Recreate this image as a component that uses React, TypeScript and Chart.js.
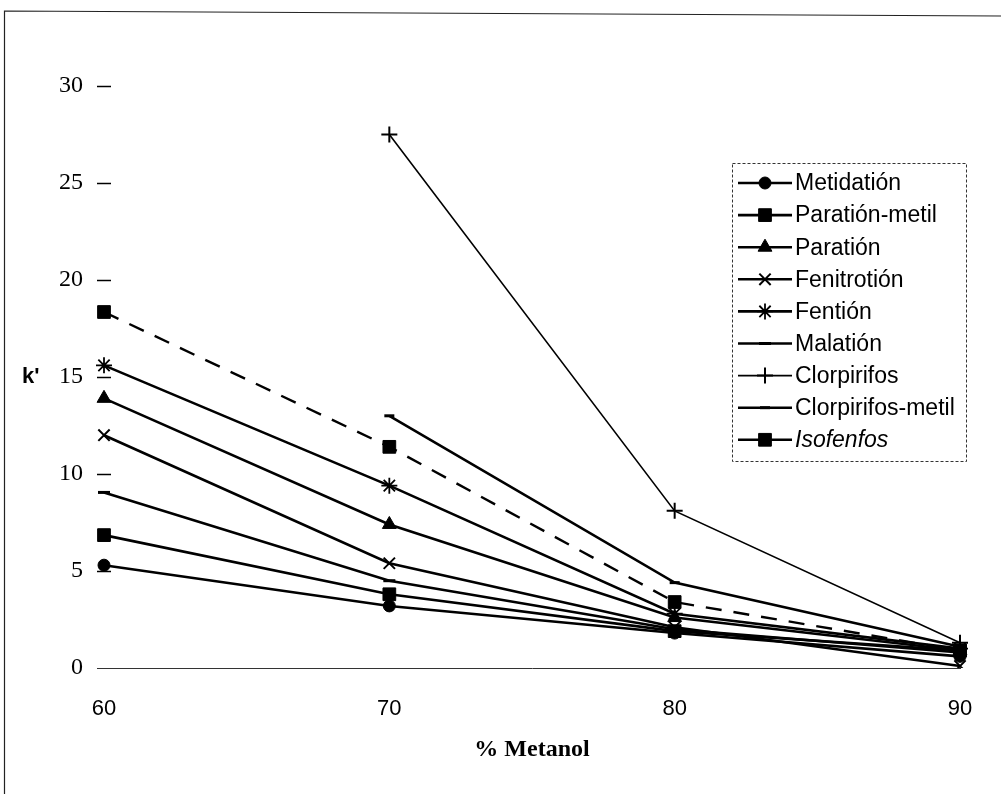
import React, { useEffect, useRef } from "react";
import { Chart, registerables } from "chart.js";
import { drawPoint } from "chart.js/helpers";

Chart.register(...registerables);

const xLabels = ["60", "70", "80", "90"];
const seriesNames = [
  "Metidatión",
  "Paratión-metil",
  "Paratión",
  "Fenitrotión",
  "Fentión",
  "Malatión",
  "Clorpirifos",
  "Clorpirifos-metil",
  "Isofenfos",
];
const metidation = [5.3, 3.2, 1.8, 0.6];
const parationMetil = [6.85, 3.8, 1.9, 0.9];
const paration = [13.9, 7.4, 2.6, 0.9];
const fenitrotion = [12.0, 5.4, 2.1, 0.1];
const fention = [15.6, 9.4, 2.8, 1.0];
const malation = [9.05, 4.5, 2.0, 0.8];
const clorpirifos = [null, 27.5, 8.1, 1.3];
const clorpirifosMetil = [null, 13.0, 4.4, 1.1];
const isofenfos = [18.35, 11.4, 3.4, 0.9];
const yTicks = [0, 5, 10, 15, 20, 25, 30];

const SERIF = '"Liberation Serif", "Times New Roman", serif';
const SANS = '"Liberation Sans", Arial, sans-serif';

const seriesValues = [
  metidation,
  parationMetil,
  paration,
  fenitrotion,
  fention,
  malation,
  clorpirifos,
  clorpirifosMetil,
  isofenfos,
];
const seriesStyle = [
  { pointStyle: "circle", r: 6, pbw: 1, bw: 2.6, dash: [] as number[] },
  { pointStyle: "rect", r: 9, pbw: 1, bw: 2.6, dash: [] },
  { pointStyle: "triangle", r: 8, pbw: 1, bw: 2.6, dash: [] },
  { pointStyle: "crossRot", r: 8, pbw: 2, bw: 2.6, dash: [] },
  { pointStyle: "star", r: 8, pbw: 1.8, bw: 2.6, dash: [] },
  { pointStyle: "line", r: 6, pbw: 3, bw: 2.6, dash: [] },
  { pointStyle: "cross", r: 8, pbw: 2, bw: 1.6, dash: [] },
  { pointStyle: "line", r: 5, pbw: 3, bw: 2.6, dash: [] },
  { pointStyle: "rect", r: 9, pbw: 1, bw: 2.4, dash: [16, 12] },
];

const decor = {
  id: "decor",
  afterDraw(chart: any) {
    const ctx = chart.ctx as CanvasRenderingContext2D;
    const ca = chart.chartArea;
    const ys = chart.scales.y;
    ctx.save();
    // outer frame
    ctx.strokeStyle = "#222";
    ctx.lineWidth = 1.2;
    ctx.beginPath();
    ctx.moveTo(4.5, 794);
    ctx.lineTo(4.5, 11);
    ctx.lineTo(1001, 16);
    ctx.stroke();
    // axis line extension left
    ctx.strokeStyle = "#333";
    ctx.lineWidth = 1;
    ctx.beginPath();
    ctx.moveTo(ca.left - 7, Math.round(ca.bottom) + 0.5);
    ctx.lineTo(ca.left, Math.round(ca.bottom) + 0.5);
    ctx.stroke();
    // y tick marks crossing axis
    ctx.strokeStyle = "#000";
    ctx.lineWidth = 1.5;
    ys.ticks.forEach((t: any) => {
      if (t.value === 0) return;
      const py = Math.round(ys.getPixelForValue(t.value)) + 0.5;
      ctx.beginPath();
      ctx.moveTo(ca.left - 7, py);
      ctx.lineTo(ca.left + 7, py);
      ctx.stroke();
    });
    // y title
    ctx.fillStyle = "#000";
    ctx.font = "bold 22px " + SANS;
    ctx.textAlign = "left";
    ctx.textBaseline = "middle";
    ctx.fillText("k'", 22, ys.getPixelForValue(15));
    // x title
    ctx.font = "bold 24px " + SERIF;
    ctx.textAlign = "center";
    ctx.fillText("% Metanol", (ca.left + ca.right) / 2, 750);
    // legend
    const bx = ca.right - 228;
    const by = ca.top + 77;
    const bw = 234;
    const bh = 298;
    ctx.setLineDash([3, 2]);
    ctx.lineWidth = 1;
    ctx.strokeStyle = "#333";
    ctx.strokeRect(bx + 0.5, by + 0.5, bw, bh);
    ctx.setLineDash([]);
    chart.data.datasets.forEach((ds: any, i: number) => {
      const st = seriesStyle[i];
      const cy = by + 20 + i * 32.1;
      ctx.strokeStyle = "#000";
      ctx.fillStyle = "#000";
      ctx.lineWidth = st.bw;
      ctx.beginPath();
      ctx.moveTo(bx + 6, cy);
      ctx.lineTo(bx + 60, cy);
      ctx.stroke();
      ctx.lineWidth = st.pbw;
      drawPoint(ctx, { pointStyle: st.pointStyle, radius: st.r, rotation: 0, borderWidth: st.pbw } as any, bx + 33, cy);
      ctx.fillStyle = "#000";
      ctx.font = (i === 8 ? "italic " : "") + "23px " + SANS;
      ctx.textAlign = "left";
      ctx.textBaseline = "middle";
      ctx.fillText(ds.label, bx + 63, cy + 1);
    });
    ctx.restore();
  },
};

export default function App() {
  const ref = useRef<HTMLCanvasElement | null>(null);
  useEffect(() => {
    if (!ref.current) return;
    const datasets = seriesNames.map((name, i) => {
      const st = seriesStyle[i];
      return {
        label: name,
        data: seriesValues[i],
        borderColor: "#000",
        backgroundColor: "#000",
        pointBackgroundColor: "#000",
        pointBorderColor: "#000",
        borderWidth: st.bw,
        borderDash: st.dash,
        pointStyle: st.pointStyle,
        pointRadius: st.r,
        pointBorderWidth: st.pbw,
        fill: false,
        tension: 0,
      };
    });
    const chart = new Chart(ref.current, {
      type: "line",
      data: { labels: xLabels, datasets: datasets as any },
      options: {
        animation: false,
        responsive: false,
        layout: { padding: { top: 86, right: 41, left: 0, bottom: 0 } },
        plugins: { legend: { display: false }, tooltip: { enabled: false } },
        scales: {
          x: {
            type: "category",
            offset: false,
            grid: { display: false },
            border: { display: true, color: "#333", width: 1 },
            ticks: { color: "#000", font: { family: SANS, size: 22 }, padding: 20, maxRotation: 0 },
            afterFit: (s: any) => {
              s.height = 126;
            },
          },
          y: {
            min: 0,
            max: 30,
            afterBuildTicks: (s: any) => {
              s.ticks = yTicks.map((v) => ({ value: v }));
            },
            grid: { display: false },
            border: { display: false },
            ticks: { color: "#000", font: { family: SERIF, size: 24 }, padding: 13 },
            afterFit: (s: any) => {
              s.width = 104;
            },
          },
        },
      },
      plugins: [decor],
    });
    return () => chart.destroy();
  }, []);
  return (
    <div style={{ position: "absolute", left: 0, top: 0, width: 1001, height: 794, background: "#fff" }}>
      <canvas ref={ref} width={1001} height={794} style={{ display: "block" }} />
    </div>
  );
}
